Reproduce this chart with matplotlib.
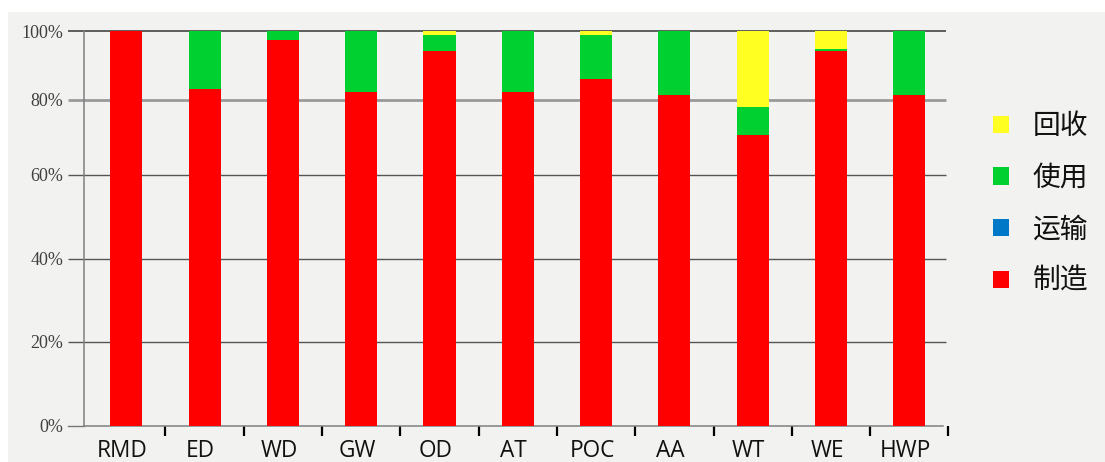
import matplotlib
matplotlib.use('Agg')
import matplotlib.pyplot as plt
from matplotlib.patches import Patch, Rectangle
import numpy as np

# ---- data ----
categories = ['RMD', 'ED', 'WD', 'GW', 'OD', 'AT', 'POC', 'AA', 'WT', 'WE', 'HWP']
manufacture = [100.0, 85.4, 97.9, 84.7, 95.0, 84.7, 87.9, 83.9, 73.8, 95.0, 83.8]   # 制造
transport = [0, 0, 0, 0, 0, 0, 0, 0, 0, 0, 0]                                        # 运输
use = [0.0, 14.6, 2.1, 15.3, 4.0, 15.3, 11.1, 16.1, 6.9, 0.4, 16.2]                  # 使用
recycle = [0.0, 0.0, 0.0, 0.0, 1.0, 0.0, 1.0, 0.0, 19.3, 4.6, 0.0]                  # 回收
y_tick_values = [0, 21.3, 42.4, 63.7, 82.6, 100]
y_tick_labels = ['0%', '20%', '40%', '60%', '80%', '100%']
series_names = ['回收', '使用', '运输', '制造']

# ---- style ----
C_RED = '#ff0000'
C_BLUE = '#0078c8'
C_GREEN = '#00d030'
C_YELLOW = '#ffff22'
BG = '#f2f2f1'

W, H = 1105, 462
DPI = 100
fig = plt.figure(figsize=(W / DPI, H / DPI), dpi=DPI, facecolor='white')
fig.add_artist(Rectangle((8 / W, 0), 1 - 8 / W, (H - 12) / H, transform=fig.transFigure,
                         facecolor=BG, edgecolor='none', zorder=-10))

left_px, right_px, top_px, bottom_px = 84, 950, 31.3, 426
ax = fig.add_axes([left_px / W, (H - bottom_px) / H,
                   (right_px - left_px) / W, (bottom_px - top_px) / H])
ax.set_facecolor('none')

x = np.arange(len(categories))
bw = 0.41
man = np.array(manufacture)
tra = np.array(transport)
us = np.array(use)
rec = np.array(recycle)
ax.bar(x, man, bw, color=C_RED, zorder=3)
ax.bar(x, tra, bw, bottom=man, color=C_BLUE, zorder=3)
ax.bar(x, us, bw, bottom=man + tra, color=C_GREEN, zorder=3)
ax.bar(x, rec, bw, bottom=man + tra + us, color=C_YELLOW, zorder=3)

xl = -0.54
ax.set_xlim(xl, 10.52)
ax.set_ylim(0, 100)

# gridlines (extend slightly left of the y-axis like tick marks)
grid_x0 = xl - 0.204
grid_x1 = 10.47
for v in y_tick_values[1:]:
    if v == 100:
        col, lw = '#444444', 1.2
    elif v == y_tick_values[4]:
        col, lw = '#9a9a9a', 2.0
    else:
        col, lw = '#555555', 1.0
    ax.plot([grid_x0, grid_x1], [v, v], color=col, lw=lw, clip_on=False, zorder=1,
            solid_capstyle='butt')
ax.plot([grid_x0, xl], [0, 0], color='#777777', lw=1.0, clip_on=False, zorder=1)

ax.set_yticks(y_tick_values)
ax.set_yticklabels(y_tick_labels, family='Liberation Serif', fontsize=13, color='#404040')
ax.tick_params(axis='y', length=0, pad=15)

# x ticks at category boundaries
ax.set_xticks(x + 0.5)
ax.set_xticklabels([])
ax.tick_params(axis='x', length=7.5, width=1.6, color='black', direction='out')
for i, c in enumerate(categories):
    ax.text(i - 0.05, -3.4, c, ha='center', va='top', family='Open Sans', fontsize=16.3,
            color='#111111')

for s in ['top', 'right']:
    ax.spines[s].set_visible(False)
ax.spines['left'].set_color('#808080')
ax.spines['left'].set_linewidth(1.1)
ax.spines['bottom'].set_color('#808080')
ax.spines['bottom'].set_linewidth(1.1)
ax.spines['bottom'].set_bounds(xl, 10.43)

handles = [Patch(facecolor=C_YELLOW), Patch(facecolor=C_GREEN),
           Patch(facecolor=C_BLUE), Patch(facecolor=C_RED)]
leg = fig.legend(handles, series_names, loc='upper left',
                 bbox_to_anchor=(993 / W, (H - 111) / H), frameon=False,
                 prop={'family': ['Noto Sans CJK SC', 'DejaVu Sans'], 'size': 20},
                 handlelength=0.58, handleheight=0.58, handletextpad=0.85,
                 labelspacing=0.78, borderpad=0, borderaxespad=0)
for t in leg.get_texts():
    t.set_color('#111111')

fig.savefig('out.png', dpi=DPI, facecolor='white')
